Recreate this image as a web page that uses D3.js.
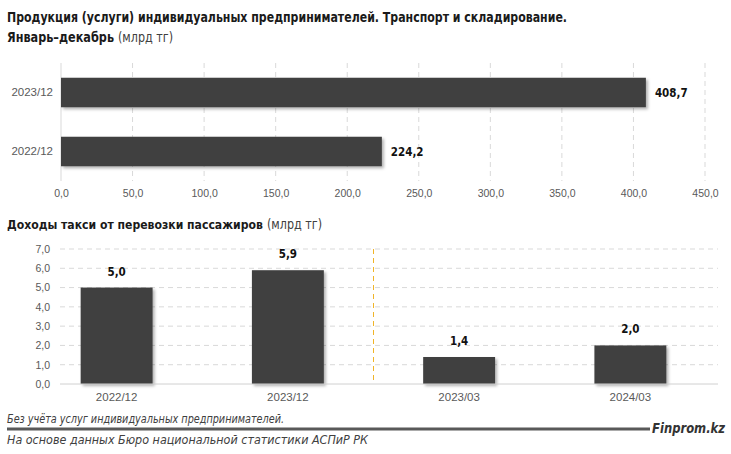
<!DOCTYPE html>
<html><head><meta charset="utf-8">
<script src="https://cdn.jsdelivr.net/npm/d3@7"></script>
<style>
body{margin:0;background:#fff;}
svg{display:block;font-family:"Liberation Sans Narrow","DejaVu Sans Condensed","Arial Narrow",sans-serif;}
</style></head>
<body><svg id="c" width="731" height="454"></svg>
<script>
// top chart data
const topCategories = ["2023/12", "2022/12"];
const topValues = [408.7, 224.2];
const topTicks = [0, 50, 100, 150, 200, 250, 300, 350, 400, 450];
// bottom chart data
const botCategories = ["2022/12", "2023/12", "2023/03", "2024/03"];
const botValues = [5.0, 5.9, 1.4, 2.0];
const botTicks = [0, 1, 2, 3, 4, 5, 6, 7];

const fmt = v => d3.format(".1f")(v).replace(".", ",");
const svg = d3.select("#c");
const defs = svg.append("defs");
const f = defs.append("filter").attr("id","sh").attr("x","-10%").attr("y","-10%").attr("width","130%").attr("height","140%");
f.append("feDropShadow").attr("dx",2).attr("dy",2).attr("stdDeviation",1.5).attr("flood-color","#000").attr("flood-opacity",0.3);

const barColor = "#404040";
const tickColor = "#595959";
const gridColor = "#d9d9d9";

function fit(sel, w, bySize){ // match text to a measured width
  const n = sel.node();
  const cur = n.getComputedTextLength();
  if (cur <= 0) return sel;
  if (bySize) {
    sel.attr("font-size", +sel.attr("font-size") * w / cur);
  } else {
    sel.attr("textLength", w).attr("lengthAdjust","spacingAndGlyphs");
  }
  return sel;
}
function label(x, y, txt, w, opts){
  const s = svg.append("text").attr("x",x).attr("y",y).attr("font-size",opts.size||13.5)
    .attr("font-weight",opts.bold?"bold":null).attr("font-style",opts.italic?"italic":null)
    .attr("fill",opts.fill||"#1a1a1a").text(txt);
  return fit(s, w, opts.bySize);
}

// titles
label(7, 22, "Продукция (услуги) индивидуальных предпринимателей. Транспорт и складирование.", 560, {bold:true});
label(7, 42, "Январь–декабрь", 107, {bold:true});
label(118, 42, "(млрд тг)", 55, {fill:"#404040"});

// ---- top chart
const xT = d3.scaleLinear().domain([0,450]).range([61,705]);
const yT = d3.scaleBand().domain(topCategories).range([63,181]).paddingInner(0.5).paddingOuter(0.25);
const gT = svg.append("g");
gT.selectAll("line.grid").data(topTicks).join("line")
  .attr("x1",d=>xT(d)).attr("x2",d=>xT(d)).attr("y1",63).attr("y2",181)
  .attr("stroke",gridColor).attr("stroke-width",1)
  .attr("stroke-dasharray",d=>d===0?null:"5,4");
gT.selectAll("rect").data(topValues).join("rect")
  .attr("x",xT(0)).attr("y",(d,i)=>yT(topCategories[i])).attr("width",d=>xT(d)-xT(0)).attr("height",yT.bandwidth())
  .attr("fill",barColor).attr("filter","url(#sh)");
gT.selectAll("text.val").data(topValues).join("text").attr("class","val")
  .attr("x",d=>xT(d)+9).attr("y",(d,i)=>yT(topCategories[i])+yT.bandwidth()/2).attr("dy","0.35em")
  .attr("font-size",11.5).attr("font-weight","bold").attr("fill","#111").text(d=>fmt(d));
const axT = d3.axisBottom(xT).tickValues(topTicks).tickFormat(fmt).tickSize(0).tickPadding(0);
const gax = svg.append("g").attr("transform","translate(0,193)").call(axT);
gax.select(".domain").remove();
gax.selectAll("text").attr("font-size",10.5).attr("fill",tickColor).attr("dy","0.35em").attr("font-family",null);
const ayT = d3.axisLeft(yT).tickSize(0).tickPadding(0);
const gay = svg.append("g").attr("transform","translate(53,0)").call(ayT);
gay.select(".domain").remove();
gay.selectAll("text").attr("font-size",11.5).attr("fill",tickColor).attr("font-family",null);

// ---- bottom chart title
label(7, 229, "Доходы такси от перевозки пассажиров", 256, {bold:true, bySize:true});
label(267, 229, "(млрд тг)", 55, {fill:"#404040"});

const yB = d3.scaleLinear().domain([0,7]).range([384,249]);
const xB = d3.scaleBand().domain(botCategories).range([31,716]).paddingInner(0.58).paddingOuter(0.29);
const gB = svg.append("g");
gB.selectAll("line.grid").data(botTicks.filter(d=>d>0)).join("line")
  .attr("x1",60).attr("x2",718).attr("y1",d=>yB(d)).attr("y2",d=>yB(d))
  .attr("stroke",gridColor).attr("stroke-dasharray","5,4");
// separator
const sepX = (xB("2023/12")+xB.bandwidth()+xB("2023/03"))/2;
gB.append("line").attr("x1",sepX).attr("x2",sepX).attr("y1",yB(7)).attr("y2",yB(0))
  .attr("stroke","#f0b429").attr("stroke-dasharray","5,4").attr("stroke-width",1);
gB.selectAll("rect").data(botValues).join("rect")
  .attr("x",(d,i)=>xB(botCategories[i])).attr("y",d=>yB(d)).attr("width",xB.bandwidth()).attr("height",d=>yB(0)-yB(d))
  .attr("fill",barColor).attr("filter","url(#sh)");
gB.append("line").attr("x1",60).attr("x2",718).attr("y1",yB(0)).attr("y2",yB(0)).attr("stroke","#d0d0d0");
gB.selectAll("text.val").data(botValues).join("text").attr("class","val")
  .attr("x",(d,i)=>xB(botCategories[i])+xB.bandwidth()/2).attr("y",d=>yB(d)-12)
  .attr("text-anchor","middle").attr("font-size",11.5).attr("font-weight","bold").attr("fill","#111").text(d=>fmt(d));
const ayB = d3.axisLeft(yB).tickValues(botTicks).tickFormat(fmt).tickSize(0).tickPadding(0);
const gyb = svg.append("g").attr("transform","translate(50,0)").call(ayB);
gyb.select(".domain").remove();
gyb.selectAll("text").attr("font-size",10.5).attr("fill",tickColor).attr("font-family",null);
const axB = d3.axisBottom(xB).tickSize(0).tickPadding(0);
const gxb = svg.append("g").attr("transform","translate(0,397)").call(axB);
gxb.select(".domain").remove();
gxb.selectAll("text").attr("font-size",11.5).attr("fill",tickColor).attr("dy","0.35em").attr("font-family",null);

// footer
label(7, 423, "Без учёта услуг индивидуальных предпринимателей.", 277, {size:11.5, italic:true, fill:"#404040"});
svg.append("line").attr("x1",7).attr("x2",650).attr("y1",429).attr("y2",429).attr("stroke","#595959").attr("stroke-width",3);
label(652, 433, "Finprom.kz", 73, {size:14, bold:true, italic:true, fill:"#333"});
label(7, 444, "На основе данных Бюро национальной статистики АСПиР РК", 361, {size:11.5, italic:true, fill:"#404040"});
</script></body></html>
